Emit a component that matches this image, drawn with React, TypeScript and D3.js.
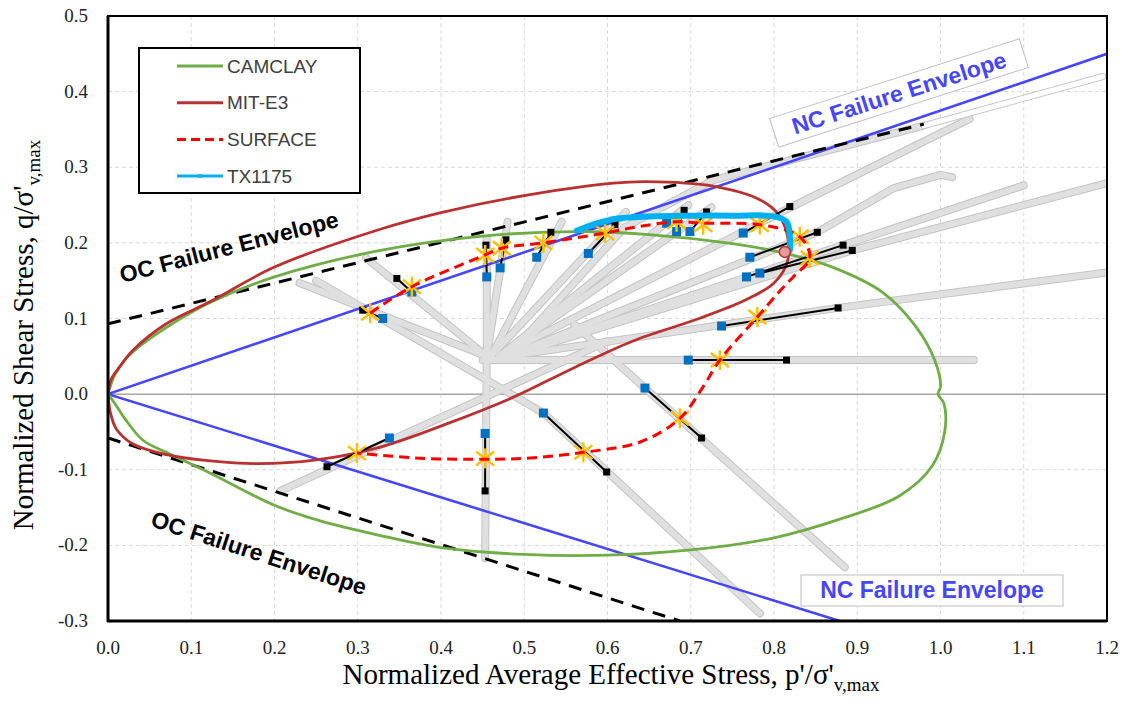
import React from 'react';
import * as d3 from 'd3';

type Pt = [number, number];

const xTicks = [0, 0.1, 0.2, 0.3, 0.4, 0.5, 0.6, 0.7, 0.8, 0.9, 1.0, 1.1, 1.2];
const yTicks = [-0.3, -0.2, -0.1, 0, 0.1, 0.2, 0.3, 0.4, 0.5];

// failure envelopes
const ncUpper: Pt[] = [[0, 0], [1.2, 0.45]];
const ncLower: Pt[] = [[0, 0], [0.879, -0.3]];
const ocUpper: Pt[] = [[0, 0.093], [0.98, 0.357]];
const ocLower: Pt[] = [[0, -0.058], [0.687, -0.3]];

const camclay: Pt[] = [
  [0, 0], [0.008, 0.025], [0.02, 0.045], [0.04, 0.065], [0.08, 0.095], [0.12, 0.12],
  [0.2, 0.155], [0.327, 0.19], [0.45, 0.209], [0.56, 0.215], [0.65, 0.211], [0.75, 0.199],
  [0.81, 0.187], [0.87, 0.168], [0.93, 0.135], [0.97, 0.09], [0.993, 0.045], [1.0, 0.01],
  [0.997, 0.0], [1.004, -0.012], [1.005, -0.05], [0.99, -0.095], [0.95, -0.135],
  [0.88, -0.165], [0.8, -0.19], [0.7, -0.206], [0.6, -0.213], [0.5, -0.212], [0.4, -0.203],
  [0.327, -0.187], [0.25, -0.166], [0.2, -0.147], [0.12, -0.103], [0.07, -0.077],
  [0.042, -0.061], [0.02, -0.032], [0.008, -0.012], [0, 0],
];

const mitE3: Pt[] = [
  [0, 0], [0.004, 0.02], [0.014, 0.036], [0.03, 0.058], [0.07, 0.093], [0.126, 0.124],
  [0.2, 0.168], [0.327, 0.218], [0.4, 0.24], [0.487, 0.26], [0.607, 0.279], [0.647, 0.281],
  [0.727, 0.275], [0.783, 0.257], [0.805, 0.238], [0.816, 0.21], [0.816, 0.175],
  [0.8, 0.147], [0.765, 0.124], [0.71, 0.1], [0.63, 0.07], [0.56, 0.035], [0.487, -0.004],
  [0.41, -0.038], [0.327, -0.07], [0.25, -0.087], [0.18, -0.092], [0.12, -0.088],
  [0.07, -0.08], [0.03, -0.066], [0.01, -0.046], [0.003, -0.025], [0, 0],
];

const surface: Pt[] = [
  [0.315, 0.107], [0.365, 0.142], [0.453, 0.184], [0.473, 0.193], [0.523, 0.2],
  [0.597, 0.213], [0.64, 0.222], [0.683, 0.228], [0.715, 0.226], [0.783, 0.224],
  [0.831, 0.208], [0.843, 0.18], [0.823, 0.155], [0.806, 0.135], [0.78, 0.102],
  [0.735, 0.045], [0.715, 0.01], [0.687, -0.032], [0.64, -0.063], [0.571, -0.077],
  [0.5, -0.085], [0.453, -0.086], [0.38, -0.085], [0.299, -0.078],
];

const tx1175: Pt[] = [
  [0.563, 0.216], [0.585, 0.225], [0.61, 0.232], [0.65, 0.235], [0.7, 0.236],
  [0.75, 0.236], [0.8, 0.235], [0.815, 0.228], [0.819, 0.21], [0.819, 0.19],
];

const stars: Pt[] = [
  [0.315, 0.107], [0.365, 0.142], [0.453, 0.184], [0.473, 0.193], [0.523, 0.2],
  [0.597, 0.213], [0.683, 0.228], [0.715, 0.224], [0.783, 0.224], [0.831, 0.208],
  [0.843, 0.18], [0.78, 0.102], [0.735, 0.045], [0.687, -0.032], [0.571, -0.077],
  [0.453, -0.085], [0.299, -0.078],
];

// end points of the measured test segments
const blackEnds: Pt[] = [
  [0.306, 0.111], [0.347, 0.153], [0.454, 0.197], [0.478, 0.204], [0.532, 0.214],
  [0.609, 0.224], [0.692, 0.243], [0.719, 0.241], [0.819, 0.248], [0.852, 0.214],
  [0.883, 0.197], [0.894, 0.19], [0.877, 0.114], [0.815, 0.045], [0.713, -0.058],
  [0.599, -0.103], [0.453, -0.128], [0.263, -0.096],
];
const blueEnds: Pt[] = [
  [0.33, 0.1], [0.365, 0.135], [0.455, 0.155], [0.471, 0.167], [0.515, 0.181],
  [0.577, 0.186], [0.683, 0.215], [0.699, 0.215], [0.763, 0.213], [0.771, 0.181],
  [0.767, 0.155], [0.783, 0.16], [0.737, 0.09], [0.697, 0.045], [0.645, 0.008],
  [0.523, -0.025], [0.453, -0.052], [0.338, -0.058],
];
const extraBlue: Pt[] = [[0.671, 0.226]];

// gray stress paths
const grayPaths: Pt[][] = [
  [[0.455, 0.05], [0.23, 0.147]],
  [[0.455, 0.05], [0.31, 0.18]],
  [[0.455, 0.05], [0.455, 0.205]],
  [[0.455, 0.05], [0.48, 0.228]],
  [[0.46, 0.05], [0.545, 0.228]],
  [[0.46, 0.05], [0.622, 0.241]],
  [[0.47, 0.05], [0.697, 0.25]],
  [[0.47, 0.05], [0.725, 0.247]],
  [[0.47, 0.05], [0.82, 0.247], [1.035, 0.364]],
  [[0.48, 0.05], [0.62, 0.22], [0.727, 0.283], [0.98, 0.355]],
  [[0.48, 0.05], [0.852, 0.214], [0.943, 0.272], [1.0, 0.29], [1.014, 0.287]],
  [[0.48, 0.05], [0.883, 0.197], [1.1, 0.276]],
  [[0.48, 0.05], [0.894, 0.19], [1.2, 0.279]],
  [[0.48, 0.05], [0.877, 0.114], [1.2, 0.161]],
  [[0.45, 0.045], [1.04, 0.045]],
  [[0.56, 0.092], [0.645, 0.008], [0.885, -0.229]],
  [[0.25, 0.15], [0.523, -0.025], [0.6, -0.103], [0.783, -0.29]],
  [[0.455, 0.06], [0.453, -0.217]],
  [[0.6, 0.07], [0.207, -0.128]],
];
const outlinePath: Pt[] = [[0.98, 0.355], [1.195, 0.42]];

const legendItems = [
  { label: 'CAMCLAY', color: '#70ad47', dash: '' },
  { label: 'MIT-E3', color: '#b83232', dash: '' },
  { label: 'SURFACE', color: '#ff0000', dash: '9,5' },
  { label: 'TX1175', color: '#00b0f0', dash: '' },
];

const serif = '"Liberation Serif", "Times New Roman", serif';
const sans = '"Liberation Sans", Arial, sans-serif';

const fmt = (t: number) => t.toFixed(1);

export default function App() {
  const x = d3.scaleLinear().domain([0, 1.2]).range([108, 1107]);
  const y = d3.scaleLinear().domain([-0.3, 0.5]).range([621, 16]);
  const line = d3.line<Pt>().x(d => x(d[0])).y(d => y(d[1]));
  const smooth = d3.line<Pt>().x(d => x(d[0])).y(d => y(d[1])).curve(d3.curveCatmullRom.alpha(0.5));

  const starMark = (p: Pt, i: number) => {
    const cx = x(p[0]), cy = y(p[1]);
    return (
      <g key={i} stroke="#ffc000" strokeWidth={2.5}>
        <line x1={cx} y1={cy - 10} x2={cx} y2={cy + 10} />
        <line x1={cx - 9} y1={cy - 7} x2={cx + 9} y2={cy + 7} />
        <line x1={cx - 9} y1={cy + 7} x2={cx + 9} y2={cy - 7} />
      </g>
    );
  };

  return (
    <svg width={1125} height={712} style={{ position: 'absolute', left: 0, top: 0, background: '#fff' }}>
      <defs>
        <clipPath id="plot">
          <rect x={108} y={16} width={999} height={605} />
        </clipPath>
      </defs>

      {/* grid */}
      <g stroke="#d9d9d9" strokeWidth={1} strokeDasharray="4,3">
        {xTicks.slice(1, -1).map(t => (
          <line key={'gx' + t} x1={x(t)} x2={x(t)} y1={16} y2={621} />
        ))}
        {yTicks.filter(t => t !== 0).map(t => (
          <line key={'gy' + t} x1={108} x2={1107} y1={y(t)} y2={y(t)} />
        ))}
      </g>
      <line x1={108} x2={1107} y1={y(0)} y2={y(0)} stroke="#a6a6a6" strokeWidth={1.5} />

      <g clipPath="url(#plot)" fill="none" strokeLinecap="round" strokeLinejoin="round">
        {grayPaths.map((g, i) => (
          <path key={'go' + i} d={line(g) || ''} stroke="#c4c4c4" strokeWidth={8} />
        ))}
        {grayPaths.map((g, i) => (
          <path key={'gi' + i} d={line(g) || ''} stroke="#e0e0e0" strokeWidth={6} />
        ))}
        <path d={line(outlinePath) || ''} stroke="#c8c8c8" strokeWidth={7} />
        <path d={line(outlinePath) || ''} stroke="#ffffff" strokeWidth={5} />

        <path d={line(ncUpper) || ''} stroke="#4646ff" strokeWidth={2.6} />
        <path d={line(ncLower) || ''} stroke="#4646ff" strokeWidth={2.6} />
        <path d={line(ocUpper) || ''} stroke="#000" strokeWidth={3} strokeDasharray="13,9" strokeLinecap="butt" />
        <path d={line(ocLower) || ''} stroke="#000" strokeWidth={3} strokeDasharray="13,9" strokeLinecap="butt" />

        <path d={smooth(camclay) || ''} stroke="#70ad47" strokeWidth={2.8} />
        <path d={smooth(mitE3) || ''} stroke="#b83232" strokeWidth={2.8} />

        {blackEnds.map((b, i) => (
          <line key={'seg' + i} x1={x(b[0])} y1={y(b[1])} x2={x(blueEnds[i][0])} y2={y(blueEnds[i][1])}
            stroke="#000" strokeWidth={2} />
        ))}
      </g>

      {blackEnds.map((b, i) => (
        <rect key={'bk' + i} x={x(b[0]) - 3.5} y={y(b[1]) - 3.5} width={7} height={7} fill="#000" />
      ))}
      {blueEnds.concat(extraBlue).map((b, i) => (
        <rect key={'bl' + i} x={x(b[0]) - 4.5} y={y(b[1]) - 4.5} width={9} height={9} fill="#0070c0" />
      ))}
      {stars.map(starMark)}

      <g fill="none" strokeLinejoin="round">
        <path d={smooth(surface) || ''} stroke="#ff0000" strokeWidth={3} strokeDasharray="10,6" />
        <path d={smooth(tx1175) || ''} stroke="#00b0f0" strokeWidth={6} strokeLinecap="round" />
      </g>
      <circle cx={x(0.813)} cy={y(0.188)} r={5.5} fill="#e49a9a" stroke="#b83232" strokeWidth={1.5} />

      {/* plot border */}
      <rect x={108} y={16} width={999} height={605} fill="none" stroke="#000" strokeWidth={2} />
      <line x1={108} x2={108} y1={16} y2={622} stroke="#000" strokeWidth={3} />
      <line x1={107} x2={1107} y1={621} y2={621} stroke="#000" strokeWidth={3} />

      {/* annotations */}
      <g transform="translate(899,93) rotate(-17.7)">
        <rect x={-131} y={-15} width={262} height={30} fill="#fff" stroke="#bfbfbf" strokeWidth={1} />
        <text textAnchor="middle" dominantBaseline="central" fontFamily={sans} fontWeight="bold"
          fontSize={23} fill="#4646ff">NC Failure Envelope</text>
      </g>
      <g transform="translate(932,590)">
        <rect x={-131} y={-15} width={262} height={31} fill="#fff" stroke="#bfbfbf" strokeWidth={1} />
        <text textAnchor="middle" dominantBaseline="central" fontFamily={sans} fontWeight="bold"
          fontSize={23} fill="#4646ff">NC Failure Envelope</text>
      </g>
      <text transform="translate(229,247) rotate(-14.5)" textAnchor="middle" dominantBaseline="central"
        fontFamily={sans} fontWeight="bold" fontSize={23} fill="#000">OC Failure Envelope</text>
      <text transform="translate(259,553) rotate(18)" textAnchor="middle" dominantBaseline="central"
        fontFamily={sans} fontWeight="bold" fontSize={23} fill="#000">OC Failure Envelope</text>

      {/* legend */}
      <rect x={139} y={48} width={221} height={145} fill="#fff" stroke="#000" strokeWidth={2} />
      {legendItems.map((it, i) => {
        const ly = 66 + i * 36.7;
        return (
          <g key={it.label}>
            <line x1={177} x2={223} y1={ly} y2={ly} stroke={it.color} strokeWidth={3}
              strokeDasharray={it.dash || undefined} />
            {it.label === 'TX1175' && <circle cx={200} cy={ly} r={2} fill={it.color} />}
            <text x={227} y={ly} dominantBaseline="central" fontFamily={sans} fontSize={19}
              fill="#404040">{it.label}</text>
          </g>
        );
      })}

      {/* axes labels */}
      {yTicks.map(t => (
        <text key={'yl' + t} x={88} y={y(t) + 6} textAnchor="end" fontFamily={serif} fontSize={19}
          fill="#222">{fmt(t)}</text>
      ))}
      {xTicks.map(t => (
        <text key={'xl' + t} x={x(t)} y={654} textAnchor="middle" fontFamily={serif} fontSize={19}
          fill="#222">{fmt(t)}</text>
      ))}
      <text x={611} y={684} textAnchor="middle" fontFamily={serif} fontSize={29} fill="#000">
        Normalized Average Effective Stress, p'/σ'<tspan fontSize={19} dy={7}>v,max</tspan>
      </text>
      <text transform="translate(33,335) rotate(-90)" textAnchor="middle" fontFamily={serif} fontSize={29}
        fill="#000">
        Normalized Shear Stress, q/σ'<tspan fontSize={19} dy={7}>v,max</tspan>
      </text>
    </svg>
  );
}
